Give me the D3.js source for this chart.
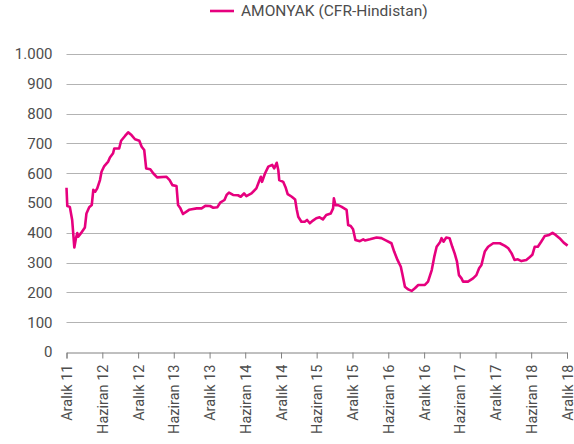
<!DOCTYPE html>
<html>
<head>
<meta charset="utf-8">
<script src="https://cdn.jsdelivr.net/npm/d3@7"></script>
<style>
  html, body { margin: 0; padding: 0; background: #fff; }
  svg text { font-family: Roboto, "Noto Sans", sans-serif; fill: #4d4d4d; }
</style>
</head>
<body>
<svg id="chart" width="574" height="444"></svg>
<script>
const seriesName = "AMONYAK (CFR-Hindistan)";
const dates = [
  "2011-12-01","2011-12-05","2011-12-18","2011-12-30","2012-01-10","2012-01-18","2012-01-25","2012-01-30",
  "2012-02-12","2012-03-04","2012-03-12","2012-03-26","2012-04-08","2012-04-16","2012-04-26","2012-05-06",
  "2012-05-20","2012-05-28","2012-06-11","2012-07-01","2012-07-10","2012-07-26","2012-08-01","2012-08-26",
  "2012-09-05","2012-09-25","2012-10-11","2012-10-28","2012-11-15","2012-12-07","2012-12-19","2013-01-01",
  "2013-01-11","2013-02-01","2013-02-17","2013-03-08","2013-04-25","2013-05-11","2013-05-25","2013-06-15",
  "2013-06-23","2013-07-05","2013-07-18","2013-08-05","2013-08-18","2013-09-01","2013-09-26","2013-10-21",
  "2013-11-11","2013-12-03","2013-12-20","2014-01-10","2014-01-24","2014-02-15","2014-02-26","2014-03-10",
  "2014-03-31","2014-04-25","2014-05-09","2014-05-26","2014-06-07","2014-07-03","2014-07-28","2014-08-10",
  "2014-08-20","2014-08-26","2014-09-10","2014-09-27","2014-10-17","2014-10-27","2014-11-09","2014-11-17",
  "2014-11-22","2014-12-12","2014-12-24","2015-01-04","2015-01-25","2015-02-11","2015-02-19","2015-02-27",
  "2015-03-15","2015-04-01","2015-04-13","2015-04-27","2015-05-13","2015-05-30","2015-06-16","2015-07-03",
  "2015-07-20","2015-08-12","2015-08-24","2015-08-28","2015-09-05","2015-09-18","2015-10-05","2015-11-01",
  "2015-11-09","2015-11-22","2015-12-04","2015-12-16","2016-01-08","2016-01-25","2016-02-03","2016-02-28",
  "2016-04-02","2016-04-27","2016-05-22","2016-06-17","2016-07-01","2016-07-18","2016-08-04","2016-08-11",
  "2016-08-25","2016-09-11","2016-09-28","2016-10-15","2016-11-01","2016-12-05","2016-12-21","2017-01-09",
  "2017-01-22","2017-02-03","2017-02-20","2017-02-28","2017-03-10","2017-03-24","2017-04-10","2017-04-24",
  "2017-05-06","2017-05-18","2017-05-28","2017-06-10","2017-06-18","2017-07-13","2017-08-08","2017-08-25",
  "2017-09-08","2017-09-20","2017-09-28","2017-10-07","2017-10-24","2017-11-19","2017-12-23","2018-01-18",
  "2018-02-04","2018-02-21","2018-03-08","2018-03-25","2018-04-12","2018-05-07","2018-05-24","2018-06-07",
  "2018-06-19","2018-07-05","2018-07-22","2018-08-09","2018-09-01","2018-09-18","2018-10-04","2018-10-24",
  "2018-11-14","2018-12-04"
];
const values = [
  551,490,487,443,351,381,399,387,
  398,418,465,486,493,544,538,549,
  577,605,624,639,653,667,683,683,
  709,725,737,728,714,709,689,678,
  616,613,599,586,588,577,560,557,
  493,482,463,471,477,479,482,482,
  491,490,484,486,501,510,527,535,
  527,526,521,532,523,532,549,571,
  588,571,599,622,628,616,635,611,
  577,571,553,530,521,512,479,454,
  437,437,443,432,441,449,452,445,
  460,465,482,516,493,493,488,477,
  426,423,412,376,372,378,374,378,
  384,382,374,365,337,309,286,264,
  219,210,205,214,225,225,236,275,
  320,353,368,382,370,384,382,353,
  331,303,258,247,236,236,247,258,
  281,292,314,337,353,365,365,356,
  348,331,309,311,305,309,318,326,
  353,353,370,389,393,400,393,382,
  367,357
];
const xTickDates = ["2011-12-01","2012-06-01","2012-12-01","2013-06-01","2013-12-01","2014-06-01","2014-12-01","2015-06-01","2015-12-01","2016-06-01","2016-12-01","2017-06-01","2017-12-01","2018-06-01","2018-12-01"];
const xTickLabels = ["Aralık 11","Haziran 12","Aralık 12","Haziran 13","Aralık 13","Haziran 14","Aralık 14","Haziran 15","Aralık 15","Haziran 16","Aralık 16","Haziran 17","Aralık 17","Haziran 18","Aralık 18"];
const yTicks = [0,100,200,300,400,500,600,700,800,900,1000];

const parse = d3.timeParse("%Y-%m-%d");
const data = dates.map((d, i) => ({ date: parse(d), value: values[i] }));
const tickDates = xTickDates.map(parse);

const svg = d3.select("#chart");
const margin = { left: 66.5, right: 7, top: 54, bottom: 92 };
const W = 574, H = 444;

const x = d3.scaleTime()
  .domain([parse("2011-12-01"), parse("2018-12-01")])
  .range([margin.left, W - margin.right]);
const y = d3.scaleLinear()
  .domain([0, 1000])
  .range([H - margin.bottom, margin.top]);

const trLocale = d3.formatLocale({ decimal: ",", thousands: ".", grouping: [3], currency: ["", ""] });
const yFmt = trLocale.format(",");

// gridlines
svg.append("g")
  .selectAll("line")
  .data(yTicks.filter(t => t > 0))
  .join("line")
  .attr("x1", x.range()[0])
  .attr("x2", x.range()[1])
  .attr("y1", d => Math.round(y(d)) + 0.5)
  .attr("y2", d => Math.round(y(d)) + 0.5)
  .attr("stroke", "#b3b3b3")
  .attr("stroke-width", 1);

// y axis labels
const yAxis = d3.axisLeft(y).tickValues(yTicks).tickFormat(yFmt).tickSize(0).tickPadding(14);
const gy = svg.append("g").attr("transform", `translate(${x.range()[0]},0)`).call(yAxis);
gy.select(".domain").remove();
gy.selectAll("text").attr("font-size", "15px").attr("fill", "#4a4a4a").style("font-family", "Roboto, 'Noto Sans', sans-serif");

// x axis
const labelMap = new Map(tickDates.map((d, i) => [+d, xTickLabels[i]]));
const xAxis = d3.axisBottom(x).tickValues(tickDates).tickFormat(d => labelMap.get(+d)).tickSizeOuter(0).tickSize(6);
const gx = svg.append("g").attr("transform", `translate(0,${Math.round(y(0)) + 0.5})`).call(xAxis);
gx.select(".domain").attr("stroke", "#808080");
gx.selectAll(".tick line").attr("stroke", "#808080");
gx.selectAll("text")
  .attr("font-size", "14.5px")
  .attr("fill", "#4a4a4a")
  .style("font-family", "Roboto, 'Noto Sans', sans-serif")
  .attr("text-anchor", "end")
  .attr("transform", "rotate(-90)")
  .attr("x", -12)
  .attr("y", 0)
  .attr("dy", "0.35em");

// line
const line = d3.line().x(d => x(d.date)).y(d => y(d.value));
svg.append("path")
  .datum(data)
  .attr("fill", "none")
  .attr("stroke", "#e6007e")
  .attr("stroke-width", 2.6)
  .attr("stroke-linejoin", "round")
  .attr("d", line);

// legend
const lg = svg.append("g");
lg.append("line").attr("x1", 210).attr("x2", 234).attr("y1", 11).attr("y2", 11)
  .attr("stroke", "#e6007e").attr("stroke-width", 2.6);
lg.append("text").attr("x", 241).attr("y", 11).attr("dy", "0.35em")
  .attr("font-size", "15.5px").attr("fill", "#4a4a4a").text(seriesName);
</script>
</body>
</html>
